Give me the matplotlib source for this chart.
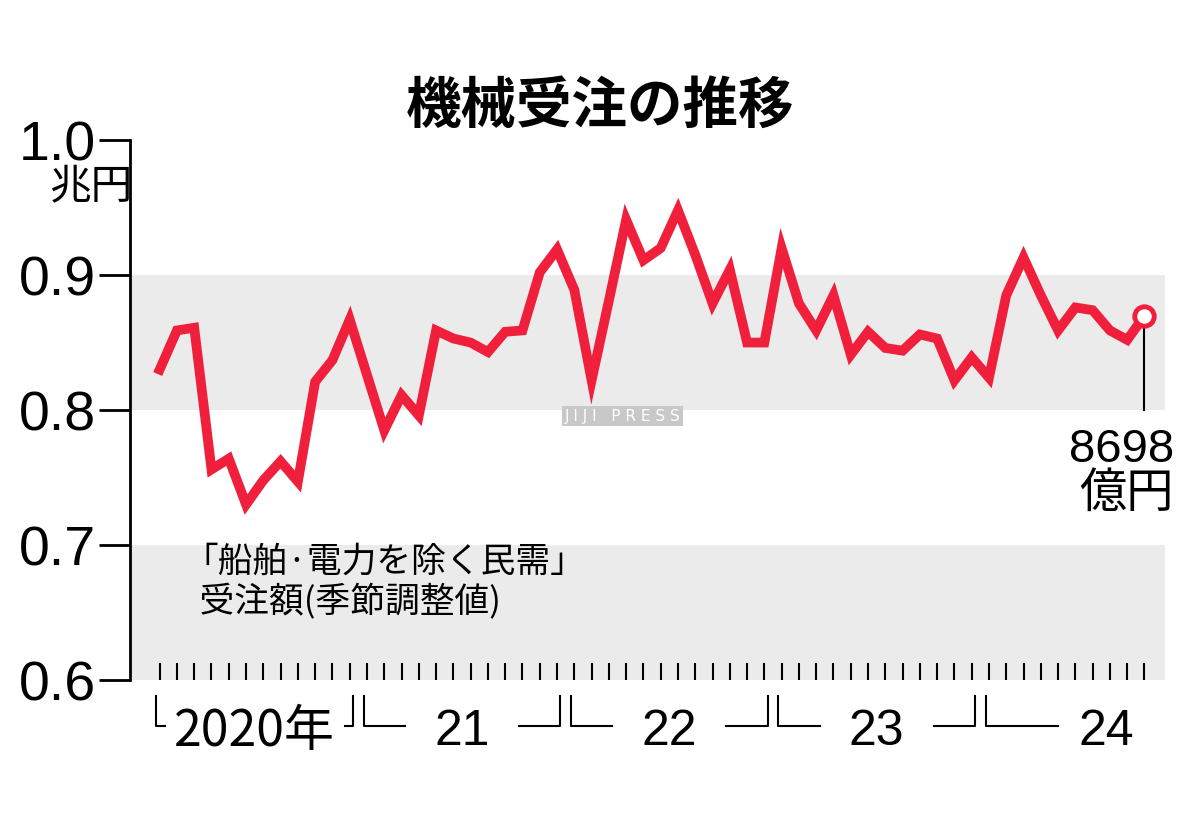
import matplotlib
matplotlib.use("Agg")
import matplotlib.pyplot as plt
import matplotlib.transforms as mtrans

JP = "Noto Sans CJK JP"
NUM = "Liberation Sans"

# monthly machinery orders, Jan 2020 - Oct 2024 (trillion yen)
values = [
    0.830, 0.859, 0.861, 0.756, 0.764, 0.730, 0.748, 0.762, 0.747, 0.821, 0.837, 0.867,
    0.826, 0.785, 0.811, 0.796, 0.859, 0.853, 0.850, 0.843, 0.858, 0.859, 0.902, 0.919,
    0.889, 0.822, 0.881, 0.941, 0.911, 0.920, 0.948, 0.915, 0.879, 0.904, 0.850, 0.850,
    0.920, 0.879, 0.859, 0.885, 0.841, 0.858, 0.846, 0.844, 0.856, 0.853, 0.822, 0.839,
    0.824, 0.885, 0.913, 0.885, 0.859, 0.876, 0.874, 0.859, 0.852, 0.8698,
]
y_ticks = [0.6, 0.7, 0.8, 0.9, 1.0]
y_labels = ["0.6", "0.7", "0.8", "0.9", "1.0"]
year_labels = ["2020年", "21", "22", "23", "24"]
year_starts = [0, 12, 24, 36, 48]

fig = plt.figure(figsize=(12, 8.39), dpi=100)
ax = fig.add_axes([0.108, 0.1895, 0.863, 0.6435])
n = len(values)
xs = list(range(n))

ax.set_xlim(-1.74, 58.2)
ax.set_ylim(0.6, 1.0)
for lo in (0.6, 0.8):
    ax.axhspan(lo, lo + 0.1, color="#ebebeb", zorder=0, lw=0)

ax.plot(xs, values, color="#f0203c", lw=7, solid_joinstyle="miter", zorder=3)
ax.plot(xs[-1], values[-1], "o", ms=14, mfc="white", mec="#f0203c", mew=3.5, zorder=4)

for s in ("top", "right", "bottom"):
    ax.spines[s].set_visible(False)
ax.spines["left"].set_linewidth(2)
ax.set_yticks(y_ticks)
ax.set_yticklabels(y_labels, fontsize=40, fontfamily=NUM)
ax.tick_params(axis="y", direction="out", length=22, width=2, pad=2)
ax.set_xticks(xs)
ax.set_xticklabels([])
ax.tick_params(axis="x", direction="in", length=12, width=1.5, color="black")
ax.text(-1.6, 0.965, "兆円", fontsize=30, fontfamily=JP, ha="right", va="center")

# year brackets below the axis
tr = mtrans.blended_transform_factory(ax.transData, ax.transAxes)
ylow, yhigh = -0.085, -0.03
for lab, st in zip(year_labels, year_starts):
    end = min(st + 11, n - 1)
    x0, x1 = st - 0.2, end + 0.2
    mid = (x0 + x1) / 2
    if st == 0:
        mid = 5.5
        ax.plot([x0, x0, x0 + 0.5], [yhigh, ylow, ylow], color="black", lw=1.5, transform=tr, clip_on=False)
        ax.plot([x1 - 0.5, x1, x1], [ylow, ylow, yhigh], color="black", lw=1.5, transform=tr, clip_on=False)
    else:
        if st == 48:
            mid = 54.8
            ax.plot([x0, x0, mid - 2.8], [yhigh, ylow, ylow], color="black", lw=1.5, transform=tr, clip_on=False)
        else:
            ax.plot([x0, x0, mid - 3.3], [yhigh, ylow, ylow], color="black", lw=1.5, transform=tr, clip_on=False)
            ax.plot([mid + 3.3, x1, x1], [ylow, ylow, yhigh], color="black", lw=1.5, transform=tr, clip_on=False)
    ax.text(mid, -0.097, lab, fontsize=36, fontfamily=NUM if st else JP, ha="center", va="center",
            transform=tr, clip_on=False)

# latest value annotation
ax.plot([xs[-1], xs[-1]], [values[-1] - 0.006, 0.8], color="black", lw=1.5, zorder=2)
ax.text(58.7, 0.787, "8698\n億円", fontsize=34, fontfamily=[NUM, JP], ha="right", va="top",
        linespacing=1.05)

ax.text(1.4, 0.7, "「船舶·電力を除く民需」\n  受注額(季節調整値)", fontsize=25, fontfamily=JP,
        ha="left", va="top", linespacing=1.15)
ax.text(26.8, 0.7955, "J I J I   P R E S S", fontsize=11, color="white", ha="center", va="center",
        bbox=dict(facecolor="#c8c8c8", edgecolor="none", pad=2))

fig.text(0.5, 0.873, "機械受注の推移", fontsize=40, fontweight="bold", fontfamily=JP,
         ha="center", va="center")

fig.savefig("out.png", dpi=100, facecolor="white")
